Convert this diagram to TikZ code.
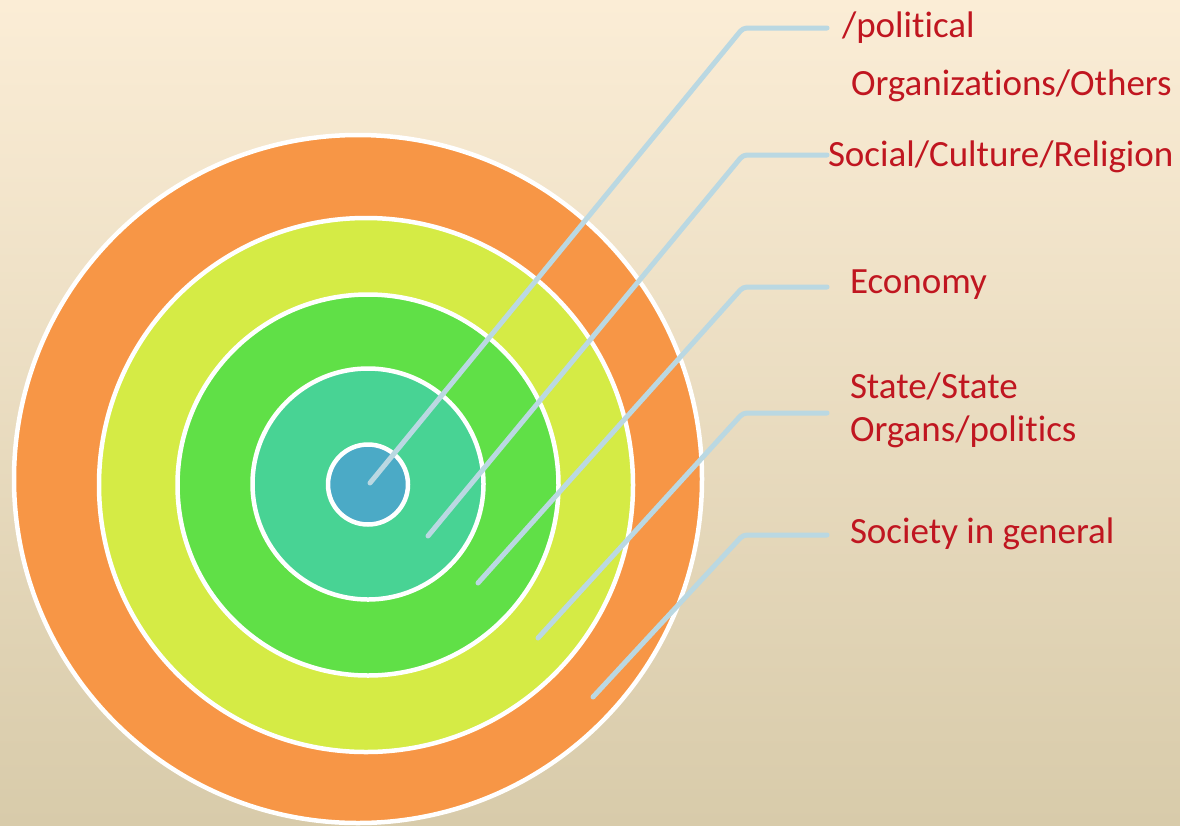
\documentclass[tikz,border=0pt]{standalone}
\usepackage{fontspec}
\setmainfont[Ligatures=NoCommon]{Carlito}
\definecolor{bgtop}{RGB}{251,237,214}
\definecolor{bgmid}{RGB}{240,232,212}
\definecolor{bgbot}{RGB}{216,203,170}
\definecolor{ringA}{RGB}{247,150,70}
\definecolor{ringB}{RGB}{213,235,69}
\definecolor{ringC}{RGB}{96,224,71}
\definecolor{ringD}{RGB}{72,211,148}
\definecolor{ringE}{RGB}{75,170,198}
\definecolor{leadc}{RGB}{186,216,226}
\definecolor{txtc}{RGB}{192,22,32}
\tikzset{
  ring/.style={circle, draw=white, line width=4.5pt, inner sep=0pt, outer sep=0pt},
  leader/.style={draw=leadc, line width=5pt, line cap=round, line join=round, rounded corners=4pt},
  lbl/.style={text=txtc, inner sep=0pt, outer sep=0pt, anchor=base west, font=\fontsize{37}{43}\selectfont}
}
\begin{document}
\begin{tikzpicture}[x=1pt,y=-1pt]
\useasboundingbox (0,0) rectangle (1180,825);
\shade[top color=bgtop, middle color=bgmid, bottom color=bgbot] (0,0) rectangle (1180,825);

\node[ring, fill=ringA, minimum size=688] (r1) at (358,479) {};
\node[ring, fill=ringB, minimum size=534] (r2) at (366,485) {};
\node[ring, fill=ringC, minimum size=381] (r3) at (368,485) {};
\node[ring, fill=ringD, minimum size=231] (r4) at (368,484) {};
\node[ring, fill=ringE, minimum size=80] (r5) at (368,484.5) {};

\coordinate (s1) at (370,483);
\coordinate (s2) at (428,536);
\coordinate (s3) at (478,583);
\coordinate (s4) at (538,638);
\coordinate (s5) at (593,697);

\coordinate (k1) at (743,28);
\coordinate (k2) at (743,155);
\coordinate (k3) at (743,287);
\coordinate (k4) at (743,413);
\coordinate (k5) at (743,535);

\coordinate (e1) at (827,28);
\coordinate (e2) at (827,155);
\coordinate (e3) at (827,287);
\coordinate (e4) at (827,413);
\coordinate (e5) at (827,535);

\draw[leader] (s1) -- (k1) -- (e1);
\draw[leader] (s2) -- (k2) -- (e2);
\draw[leader] (s3) -- (k3) -- (e3);
\draw[leader] (s4) -- (k4) -- (e4);
\draw[leader] (s5) -- (k5) -- (e5);

\node[lbl] (t1) at (842,37) {/political};
\node[lbl] (t1b) at (851,95) {Organizations/Others};
\node[lbl] (t2) at (828,166) {Social/Culture/Religion};
\node[lbl] (t3) at (850,293) {Economy};
\node[lbl] (t4) at (850,398) {State/State};
\node[lbl] (t4b) at (850,441) {Organs/politics};
\node[lbl] (t5) at (850,543) {Society in general};
\end{tikzpicture}
\end{document}
